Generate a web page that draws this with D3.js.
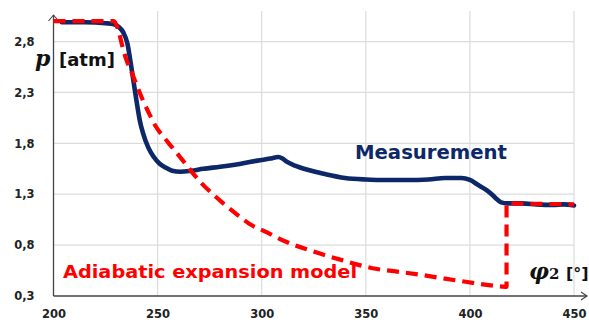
<!DOCTYPE html>
<html>
<head>
<meta charset="utf-8">
<script src="https://cdn.jsdelivr.net/npm/d3@7"></script>
<style>
  body { margin: 0; background: #fff; }
  svg { display: block; }
</style>
</head>
<body>
<svg id="chart" width="589" height="322"></svg>
<script>
// x ticks and y ticks
const xTicks = [200, 250, 300, 350, 400, 450];
const yTicks = [0.3, 0.8, 1.3, 1.8, 2.3, 2.8];

// measured pressure
const measPhi = [204, 215, 225, 229, 231.5, 233.5, 235.5, 237, 238.5, 240, 241.5, 243, 245.5, 248, 251, 254, 257, 261, 266, 272, 280, 290, 298, 304, 308, 310, 312, 316, 322, 330, 340, 350, 360, 370, 380, 388, 396, 400, 404, 408, 411, 413, 415, 418, 425, 432, 440, 445, 450];
const measP   = [2.99, 2.99, 2.98, 2.97, 2.94, 2.89, 2.78, 2.6, 2.4, 2.2, 2.02, 1.9, 1.76, 1.67, 1.60, 1.56, 1.53, 1.52, 1.53, 1.55, 1.57, 1.60, 1.63, 1.65, 1.665, 1.65, 1.62, 1.58, 1.54, 1.50, 1.46, 1.445, 1.44, 1.44, 1.445, 1.46, 1.46, 1.44, 1.39, 1.34, 1.29, 1.25, 1.22, 1.21, 1.21, 1.20, 1.195, 1.20, 1.19];

// adiabatic expansion model (smooth part)
const modelPhi = [200, 229, 231, 233, 235, 237.5, 240, 243, 246, 249, 253, 257, 261, 266, 271, 276, 281, 287, 294, 302, 312, 323, 339, 354, 365, 376, 388, 398, 408, 417];
const modelP   = [3.0, 3.0, 2.92, 2.76, 2.62, 2.50, 2.37, 2.22, 2.09, 1.97, 1.86, 1.76, 1.66, 1.53, 1.41, 1.31, 1.22, 1.12, 1.01, 0.93, 0.83, 0.75, 0.65, 0.57, 0.54, 0.51, 0.47, 0.44, 0.41, 0.39];
// pressure jump at valve opening
const jumpPhi = [417.6, 417.6, 450];
const jumpP   = [0.39, 1.21, 1.20];

const svg = d3.select("#chart");
const x = d3.scaleLinear().domain([200, 450]).range([53.5, 574]);
const y = d3.scaleLinear().domain([0.3, 3.1]).range([296, 11]);
const fmt = d => d3.format(".1f")(d).replace(".", ",");

// gridlines
svg.append("g")
  .selectAll("line")
  .data(xTicks.slice(1))
  .join("line")
    .attr("x1", d => x(d)).attr("x2", d => x(d))
    .attr("y1", y(3.1)).attr("y2", y(0.3))
    .attr("stroke", "#dcdcdc").attr("stroke-width", 1.2);

svg.append("g")
  .selectAll("line")
  .data(yTicks.slice(1))
  .join("line")
    .attr("x1", x(200)).attr("x2", x(450))
    .attr("y1", d => y(d)).attr("y2", d => y(d))
    .attr("stroke", "#dcdcdc").attr("stroke-width", 1.2);

// axes (labels only)
const xAxis = svg.append("g")
  .attr("transform", `translate(0,${y(0.3)})`)
  .call(d3.axisBottom(x).tickValues(xTicks).tickSize(0).tickPadding(14));
const yAxis = svg.append("g")
  .attr("transform", `translate(${x(200)},0)`)
  .call(d3.axisLeft(y).tickValues(yTicks).tickFormat(fmt).tickSize(0).tickPadding(19));
[xAxis, yAxis].forEach(g => {
  g.select(".domain").remove();
  g.selectAll("text")
    .attr("font-family", "DejaVu Sans, Verdana, sans-serif")
    .attr("font-weight", "bold")
    .attr("font-size", 11.5)
    .attr("fill", "#222");
});

// axis lines with arrows
const axisCol = "#444";
svg.append("line")
  .attr("x1", x(200)).attr("x2", x(200)).attr("y1", y(0.3)).attr("y2", 15)
  .attr("stroke", axisCol).attr("stroke-width", 1.3);
svg.append("path")
  .attr("d", `M${x(200) - 5},21 L${x(200)},15 L${x(200) + 5},21`)
  .attr("fill", "none").attr("stroke", axisCol).attr("stroke-width", 1.1);
svg.append("line")
  .attr("x1", x(200)).attr("x2", 587).attr("y1", y(0.3)).attr("y2", y(0.3))
  .attr("stroke", axisCol).attr("stroke-width", 1.3);
svg.append("path")
  .attr("d", `M581,${y(0.3) - 4} L587,${y(0.3)} L581,${y(0.3) + 4}`)
  .attr("fill", "none").attr("stroke", axisCol).attr("stroke-width", 1.1);

// series
const smooth = d3.line().curve(d3.curveMonotoneX);
const straight = d3.line();

svg.append("path")
  .attr("d", smooth(measPhi.map((d, i) => [x(d), y(measP[i])])))
  .attr("fill", "none")
  .attr("stroke", "#0c2868")
  .attr("stroke-width", 4.6)
  .attr("stroke-linejoin", "round")
  .attr("stroke-linecap", "round");

const modelPath = smooth(modelPhi.map((d, i) => [x(d), y(modelP[i])])) +
  straight(jumpPhi.map((d, i) => [x(d), y(jumpP[i])])).replace(/^M/, "L");

svg.append("path")
  .attr("d", modelPath)
  .attr("fill", "none")
  .attr("stroke", "#ff0000")
  .attr("stroke-width", 4.2)
  .attr("stroke-dasharray", "12,7")
  .attr("stroke-linejoin", "round");

// labels
const pLab = svg.append("text").attr("x", 35).attr("y", 66);
pLab.append("tspan")
  .attr("font-family", "DejaVu Serif, serif")
  .attr("font-style", "italic").attr("font-weight", "bold")
  .attr("font-size", 22).attr("fill", "#111")
  .text("p");
pLab.append("tspan")
  .attr("x", 59)
  .attr("font-family", "DejaVu Sans, Verdana, sans-serif")
  .attr("font-weight", "bold").attr("font-size", 18).attr("fill", "#111")
  .text("[atm]");

const phiLab = svg.append("text").attr("x", 529).attr("y", 279);
phiLab.append("tspan")
  .attr("font-family", "DejaVu Serif, serif")
  .attr("font-style", "italic").attr("font-weight", "bold")
  .attr("font-size", 22).attr("fill", "#111")
  .text("φ");
phiLab.append("tspan")
  .attr("font-family", "DejaVu Serif, serif")
  .attr("font-weight", "bold").attr("font-size", 15).attr("fill", "#111")
  .text("2");
phiLab.append("tspan")
  .attr("x", 566)
  .attr("font-family", "DejaVu Sans, Verdana, sans-serif")
  .attr("font-weight", "bold").attr("font-size", 16).attr("fill", "#111")
  .text("[°]");

svg.append("text")
  .attr("x", 355).attr("y", 158.5)
  .attr("font-family", "DejaVu Sans, Verdana, sans-serif")
  .attr("font-weight", "bold").attr("font-size", 19)
  .attr("textLength", 152).attr("lengthAdjust", "spacingAndGlyphs")
  .attr("fill", "#0c2868")
  .text("Measurement");

svg.append("text")
  .attr("x", 63).attr("y", 278)
  .attr("font-family", "DejaVu Sans, Verdana, sans-serif")
  .attr("font-weight", "bold").attr("font-size", 18.5)
  .attr("textLength", 294).attr("lengthAdjust", "spacingAndGlyphs")
  .attr("fill", "#ff0000")
  .text("Adiabatic expansion model");
</script>
</body>
</html>
